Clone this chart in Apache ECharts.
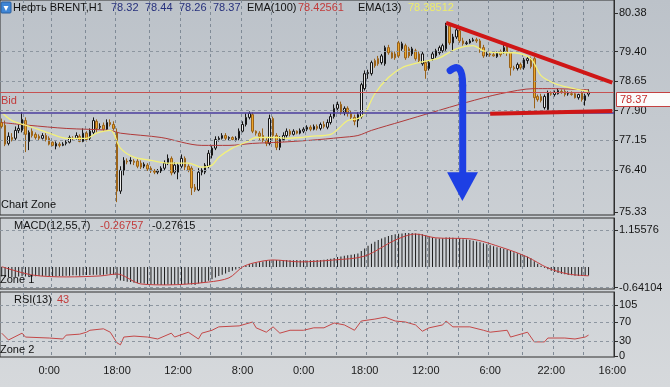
<!DOCTYPE html>
<html><head><meta charset="utf-8">
<script src="https://cdn.jsdelivr.net/npm/echarts@6/dist/echarts.min.js"></script>
<style>html,body{margin:0;padding:0;background:#c9cdd2}#c{width:670px;height:387px}</style>
</head><body><div id="c"></div>
<script>
// ---------- DATA ----------
const barCount = 181;
const categories = Array.from({length: barCount}, (_, i) => String(i));
const timeLabels = ['0:00','18:00','12:00','8:00','0:00','18:00','12:00','6:00','22:00','16:00'];
const timeLabelIdx = [14,34,52,71,89,107,125,144,162,180];
const gridLineIdx = [7,15,25,34,44,53,62,71,80,90,99,108,117,126,135,144,154,163,172];

const opens = [
77.60,77.53,77.07,77.22,77.20,77.40,77.40,77.65,77.12,77.38,
77.30,77.25,77.20,77.27,77.20,77.10,77.00,77.05,77.02,77.07,
77.10,77.20,77.20,77.25,77.12,77.33,77.20,77.35,77.63,77.48,
77.53,77.43,77.60,77.55,77.35,75.86,76.39,76.62,76.62,76.62,
76.62,76.57,76.49,76.52,76.44,76.37,76.34,76.37,76.44,76.57,
76.69,76.34,76.34,76.49,76.69,76.49,76.44,75.96,75.89,76.34,
76.34,76.49,76.77,76.95,77.17,77.20,77.27,77.20,77.22,77.17,
77.20,77.38,77.55,77.73,77.80,77.38,77.33,77.27,77.15,77.07,
77.70,77.27,76.97,77.17,77.27,77.38,77.30,77.38,77.33,77.38,
77.43,77.48,77.43,77.50,77.45,77.55,77.48,77.60,77.75,77.96,
78.06,77.86,77.96,77.83,77.73,77.65,77.75,78.46,78.84,78.84,
79.17,79.22,79.12,79.09,79.50,79.37,79.34,79.62,79.47,79.55,
79.47,79.34,79.42,79.34,79.09,79.12,78.97,79.22,79.29,79.37,
79.42,79.47,80.05,79.62,79.77,79.93,79.67,79.60,79.62,79.67,
79.70,79.67,79.50,79.32,79.34,79.32,79.27,79.40,79.37,79.52,
79.37,78.99,78.97,79.07,78.99,79.17,79.22,79.22,78.26,78.26,
77.98,77.93,78.33,78.31,78.33,78.39,78.39,78.33,78.33,78.33,
78.23,78.36,78.16,78.32];
const closes = [
77.50,77.05,77.25,77.17,77.40,77.45,77.68,77.30,77.35,77.27,
77.22,77.20,77.27,77.17,77.05,77.02,77.07,77.02,77.05,77.10,
77.22,77.19,77.27,77.12,77.33,77.17,77.38,77.65,77.45,77.50,
77.43,77.60,77.55,77.45,75.86,76.39,76.64,76.60,76.64,76.59,
76.49,76.47,76.54,76.42,76.37,76.34,76.37,76.44,76.57,76.69,
76.32,76.52,76.52,76.69,76.47,76.39,75.94,75.89,76.34,76.39,
76.52,76.82,76.95,77.17,77.20,77.27,77.20,77.22,77.17,77.20,
77.38,77.55,77.73,77.83,77.38,77.33,77.25,77.15,77.07,77.70,
77.27,76.97,77.17,77.27,77.38,77.30,77.38,77.33,77.40,77.43,
77.48,77.43,77.50,77.45,77.55,77.50,77.60,77.75,77.96,78.06,
77.86,77.96,77.83,77.73,77.63,77.80,78.56,78.84,78.87,79.12,
79.04,79.09,79.29,79.50,79.37,79.24,79.24,79.29,79.60,79.24,
79.29,79.47,79.22,79.17,79.34,78.92,79.12,79.34,79.42,79.50,
79.55,80.05,79.62,79.77,79.95,79.67,79.60,79.62,79.67,79.70,
79.67,79.47,79.29,79.34,79.32,79.29,79.37,79.32,79.50,79.37,
78.99,78.97,79.07,78.99,79.19,79.22,79.02,78.23,78.18,78.16,
78.26,78.36,78.32,78.36,78.41,78.36,78.31,78.33,78.31,78.23,
78.31,78.18,78.28,78.37];
const lows = [
77.45,77.00,77.02,77.12,77.15,77.33,77.35,76.85,76.90,77.22,
77.17,77.15,77.17,77.12,77.02,77.00,76.92,76.97,77.00,77.02,
77.07,77.15,77.17,77.10,77.10,77.12,77.15,77.30,77.35,77.43,
77.38,77.40,77.50,77.40,75.58,75.79,76.26,76.54,76.54,76.52,
76.44,76.42,76.44,76.37,76.32,76.29,76.29,76.32,76.39,76.52,
76.26,76.29,76.16,76.44,76.39,76.34,75.76,75.84,75.86,76.26,
76.29,76.44,76.69,76.90,77.12,77.17,77.15,77.15,77.15,77.12,
77.15,77.35,77.50,77.68,77.33,77.27,77.15,77.10,77.00,77.02,
77.17,76.90,76.90,77.12,77.22,77.25,77.27,77.30,77.30,77.33,
77.38,77.38,77.40,77.40,77.40,77.45,77.43,77.55,77.70,77.88,
77.80,77.78,77.75,77.68,77.53,77.48,77.70,78.41,78.71,78.79,
78.99,79.04,79.07,79.04,79.32,79.22,79.19,79.24,79.42,79.19,
79.24,79.29,79.17,79.12,79.04,78.71,78.92,79.17,79.24,79.32,
79.37,79.42,79.57,79.42,79.72,79.62,79.55,79.57,79.60,79.65,
79.62,79.37,79.24,79.27,79.27,79.27,79.24,79.27,79.34,79.29,
78.79,78.92,78.92,78.94,78.94,79.09,78.97,77.96,78.13,78.11,
77.93,77.86,78.28,78.26,78.31,78.33,78.26,78.28,78.28,78.21,
78.18,78.13,78.03,78.26];
const highs = [
77.70,77.65,77.35,77.33,77.50,77.55,77.86,77.73,77.40,77.45,
77.35,77.30,77.33,77.33,77.25,77.12,77.12,77.10,77.10,77.15,
77.27,77.25,77.35,77.30,77.45,77.38,77.45,77.73,77.68,77.58,
77.60,77.68,77.68,77.63,77.45,76.49,76.72,76.69,76.72,76.67,
76.67,76.64,76.59,76.57,76.49,76.42,76.42,76.49,76.64,76.79,
76.74,76.59,76.57,76.79,76.74,76.54,76.49,76.04,76.44,76.44,
76.57,76.90,77.00,77.25,77.25,77.33,77.33,77.25,77.25,77.25,
77.45,77.63,77.83,77.88,77.86,77.40,77.38,77.45,77.22,77.80,
77.75,77.33,77.25,77.35,77.45,77.43,77.43,77.40,77.45,77.48,
77.53,77.53,77.55,77.55,77.60,77.63,77.68,77.83,78.06,78.13,
78.13,78.01,78.01,77.91,77.80,77.86,78.61,78.92,78.94,79.17,
79.22,79.29,79.34,79.55,79.57,79.42,79.40,79.67,79.65,79.60,
79.52,79.52,79.47,79.40,79.40,79.17,79.17,79.40,79.47,79.55,
79.60,80.13,80.10,79.85,80.00,79.98,79.75,79.67,79.72,79.75,
79.75,79.72,79.57,79.40,79.37,79.37,79.40,79.45,79.57,79.60,
79.42,79.04,79.12,79.12,79.24,79.27,79.27,79.27,78.31,78.33,
78.31,78.41,78.39,78.41,78.46,78.44,78.44,78.39,78.39,78.36,
78.33,78.39,78.33,78.44];

const ema13Pts = [[0,77.86],[3,77.65],[9,77.48],[14,77.33],[19,77.20],[25,77.20],[28,77.33],[32,77.40],[33,77.33],[35,76.95],[39,76.72],[44,76.64],[49,76.57],[55,76.57],[59,76.47],[62,76.52],[64,76.72],[68,76.95],[72,77.10],[75,77.22],[81,77.22],[84,77.20],[88,77.22],[91,77.25],[97,77.30],[102,77.65],[105,77.70],[107,77.83],[110,78.33],[114,78.74],[118,78.99],[123,79.12],[129,79.24],[134,79.47],[139,79.55],[142,79.42],[147,79.37],[151,79.37],[156,79.22],[159,78.79],[163,78.59],[167,78.49],[173,78.39]];
const ema100Pts = [[0,77.60],[8,77.53],[19,77.45],[32,77.40],[35,77.33],[47,77.22],[59,77.02],[67,77.02],[74,77.07],[82,77.10],[91,77.15],[100,77.22],[105,77.27],[109,77.40],[118,77.63],[127,77.86],[137,78.11],[147,78.33],[157,78.46],[162,78.46],[167,78.45],[173,78.43]];

const macdHist = [
-0.30,-0.31,-0.31,-0.32,-0.31,-0.30,-0.29,-0.30,-0.31,-0.30,
-0.29,-0.28,-0.28,-0.27,-0.28,-0.29,-0.29,-0.28,-0.28,-0.27,
-0.27,-0.26,-0.26,-0.27,-0.26,-0.25,-0.25,-0.24,-0.24,-0.25,
-0.24,-0.23,-0.23,-0.24,
-0.36,-0.42,-0.44,-0.46,-0.47,-0.49,-0.50,
-0.51,-0.52,-0.53,-0.54,-0.55,-0.55,-0.56,-0.56,-0.55,-0.56,
-0.55,-0.55,-0.54,-0.54,-0.53,-0.55,-0.56,-0.52,
-0.50,-0.47,-0.43,-0.38,-0.33,-0.28,-0.24,-0.20,-0.16,
-0.12,-0.08,-0.04,0.00,0.04,
0.09,0.11,0.13,0.15,0.17,0.19,0.20,0.21,
0.22,0.21,0.22,0.22,0.21,0.21,0.22,0.21,0.21,0.20,0.21,0.21,0.22,0.22,0.23,0.24,0.26,0.28,
0.31,0.33,0.35,0.37,0.38,0.40,0.42,0.50,0.58,
0.66,0.73,0.79,0.84,0.89,0.93,0.97,1.00,1.02,
1.04,1.05,1.06,1.06,1.06,1.05,1.04,1.02,0.99,0.95,
0.92,0.90,0.89,0.90,0.92,0.92,0.91,0.90,0.89,0.87,0.86,0.84,0.82,0.80,
0.77,0.74,0.71,0.68,0.65,0.62,0.59,0.57,0.54,0.50,0.46,0.43,0.40,0.36,0.32,0.27,0.18,
0.10,0.04,-0.02,-0.07,-0.12,-0.16,-0.19,-0.21,-0.23,-0.25,-0.26,-0.27,-0.28,-0.28,-0.27,-0.268];
const macdSignalPts = [[0,0.01],[9,-0.25],[19,-0.31],[29,-0.28],[34,-0.22],[41,-0.53],[49,-0.56],[61,-0.47],[67,-0.34],[71,0.0],[74,0.12],[80,0.22],[88,0.16],[98,0.22],[107,0.34],[116,0.84],[122,1.03],[128,0.91],[138,0.88],[148,0.59],[155,0.31],[161,-0.03],[167,-0.22],[173,-0.276]];
const rsiPts = [[0,47],[2,33],[6,47],[7,39],[14,37],[18,35],[19,43],[23,45],[25,49],[26,53],[30,56],[32,49],[34,27],[35,23],[36,39],[39,41],[43,39],[46,35],[50,47],[51,39],[55,49],[58,35],[59,47],[62,53],[64,60],[70,62],[74,70],[75,58],[78,49],[80,60],[82,47],[85,53],[89,53],[92,58],[95,58],[98,68],[101,64],[104,53],[106,72],[110,76],[113,80],[116,72],[119,70],[122,64],[124,51],[126,58],[130,64],[131,72],[133,60],[138,60],[142,53],[144,49],[149,53],[150,39],[155,49],[157,29],[160,29],[161,37],[166,37],[169,35],[172,39],[173,43]];

const mainTicks = [80.38, 79.40, 78.65, 77.90, 77.15, 76.40, 75.33];
const macdTicks = [1.15576, -0.64104];
const rsiTicks = [105, 70, 30, 0];
const supportLevel = 77.86;
const trendUpper = [[131, 80.13], [180, 78.61]];
const trendLower = [[144, 77.82], [180, 77.89]];
const arrowPath = [[132.2, 78.92], [135.9, 79.17], [135.9, 78.54], [135.9, 76.34]];
const arrowHead = [[131.3, 76.34], [140.4, 76.34], [135.8, 75.61]];
const ema100Last = 78.42561, ema13Last = 78.38512;
const macdLast = -0.26757, macdSignalLast = -0.27615;
const rsiLast = 43;

// ---------- CHART ----------
const FONT = '"Liberation Sans", Arial, sans-serif';
const last = closes.length - 1;
const candleData = opens.map((o, i) => [o, closes[i], lows[i], highs[i]]);
const labelMap = {}; timeLabelIdx.forEach((k, j) => labelMap[k] = timeLabels[j]);
const gridSet = new Set(gridLineIdx);
const hDash = {color: '#8d96a0', type: [3, 3], width: 1};

function xAxisFor(gi, showLabels) {
  return {
    type: 'category', gridIndex: gi, data: categories,
    axisLine: {show: false}, axisTick: {show: false},
    axisLabel: showLabels ? {
      show: true, interval: (i) => labelMap[i] !== undefined,
      formatter: (v, i) => labelMap[i] || '', color: '#1a1a1a', fontSize: 11, fontFamily: FONT, margin: 8
    } : {show: false},
    splitLine: {show: true, interval: (i) => gridSet.has(i), lineStyle: {color: '#7f8a96', type: [3, 3], width: 1}}
  };
}
function yAxisFor(gi, min, max, ticks, fmt) {
  return {
    type: 'value', gridIndex: gi, position: 'right', min: min, max: max, scale: true,
    axisLine: {show: true, lineStyle: {color: '#2e2e2e'}},
    axisTick: {show: true, customValues: ticks, length: 4, lineStyle: {color: '#2e2e2e'}},
    axisLabel: {customValues: ticks, formatter: fmt, color: '#151515', fontSize: 11, fontFamily: FONT, margin: 5},
    splitLine: {show: false}
  };
}

const chart = echarts.init(document.getElementById('c'));
const gridBase = {left: -1, width: 615, show: true, borderColor: '#2e2e2e', borderWidth: 1};
chart.setOption({
  animation: false,
  backgroundColor: {type: 'linear', x: 0, y: 0, x2: 0, y2: 1,
    colorStops: [{offset: 0, color: '#bcc2c9'}, {offset: 1, color: '#d6d9dc'}]},
  textStyle: {fontFamily: FONT},
  grid: [
    Object.assign({top: -1, height: 216}, gridBase),
    Object.assign({top: 218, height: 71}, gridBase),
    Object.assign({top: 292, height: 65}, gridBase)
  ],
  xAxis: [xAxisFor(0, false), xAxisFor(1, false), xAxisFor(2, true)],
  yAxis: [
    yAxisFor(0, 75.254, 80.708, mainTicks, v => v.toFixed(2)),
    yAxisFor(1, -0.688, 1.531, macdTicks, v => v.toFixed(5)),
    yAxisFor(2, -2.06, 131.76, rsiTicks, v => String(v))
  ],
  series: [
    {
      type: 'candlestick', xAxisIndex: 0, yAxisIndex: 0, data: candleData, barWidth: 2,
      itemStyle: {color: '#ececec', color0: '#eba52c', borderColor: '#161616', borderColor0: '#9a6218', borderWidth: 1},
      markLine: {
        silent: true, symbol: ['none', 'none'], animation: false, label: {show: false},
        data: mainTicks.slice(1, -1).map(v => ({yAxis: v, lineStyle: hDash})).concat([
          {yAxis: closes[last], lineStyle: {color: '#c65252', width: 1, type: 'solid'},
           label: {show: true, position: 'insideStartBottom', formatter: 'Bid', color: '#c23a3a', fontSize: 11, fontFamily: FONT, distance: [1, 3]}},
          {yAxis: supportLevel, lineStyle: {color: '#4b3c9e', width: 1.5, type: 'solid'}},
          [{coord: trendUpper[0]}, {coord: trendUpper[1], lineStyle: {color: '#cf1616', width: 4, type: 'solid'}}],
          [{coord: trendLower[0]}, {coord: trendLower[1], lineStyle: {color: '#cf1616', width: 4, type: 'solid'}}]
        ])
      }
    },
    {type: 'line', xAxisIndex: 0, yAxisIndex: 0, data: ema100Pts, showSymbol: false, smooth: 0.3,
     lineStyle: {color: '#b03a3a', width: 1}, z: 3},
    {type: 'line', xAxisIndex: 0, yAxisIndex: 0, data: ema13Pts, showSymbol: false, smooth: 0.3,
     lineStyle: {color: '#f3f17a', width: 1.3}, z: 4},
    {type: 'bar', xAxisIndex: 1, yAxisIndex: 1, data: macdHist, barWidth: 1,
     itemStyle: {color: '#1c1c1c'}},
    {type: 'line', xAxisIndex: 1, yAxisIndex: 1, data: macdSignalPts, showSymbol: false, smooth: 0.3,
     lineStyle: {color: '#c43c3c', width: 1}, z: 4,
     markLine: {silent: true, symbol: ['none', 'none'], label: {show: false},
       data: macdTicks.map(v => ({yAxis: v, lineStyle: hDash}))}},
    {type: 'line', xAxisIndex: 2, yAxisIndex: 2, data: rsiPts, showSymbol: false,
     lineStyle: {color: '#c44848', width: 1},
     markLine: {silent: true, symbol: ['none', 'none'], label: {show: false},
       data: rsiTicks.slice(0, 3).map(v => ({yAxis: v, lineStyle: hDash}))}}
  ]
});

function px(i, p) {
  const i0 = Math.floor(i), f = i - i0;
  const a = chart.convertToPixel({gridIndex: 0}, [i0, p]);
  const b = chart.convertToPixel({gridIndex: 0}, [i0 + 1, p]);
  return [a[0] + (b[0] - a[0]) * f, a[1]];
}
function txt(t, x, y, color) {
  return {type: 'text', x: x, y: y, z: 100, silent: true,
    style: {text: t, fill: color, font: '11px ' + FONT, verticalAlign: 'middle', align: 'left'}};
}
const ap = arrowPath.map(p => px(p[0], p[1]));
const ah = arrowHead.map(p => px(p[0], p[1]));
const bidY = chart.convertToPixel({yAxisIndex: 0}, closes[last]);
const arrowStroke = {fill: null, stroke: '#1d3fe4', lineWidth: 7, lineCap: 'round'};

chart.setOption({graphic: [
  {type: 'rect', z: 100, shape: {x: 1, y: 2, width: 10, height: 11, r: 1},
   style: {fill: '#3f86d6', stroke: '#2a5f9e', lineWidth: 1}},
  {type: 'polygon', z: 101, shape: {points: [[3.5, 6], [8.5, 6], [6, 11]]}, style: {fill: '#ffffff'}},
  txt('Нефть BRENT,H1', 13, 8, '#111111'),
  txt(opens[last].toFixed(2), 111, 8, '#26307c'),
  txt(highs[last].toFixed(2), 145, 8, '#26307c'),
  txt(lows[last].toFixed(2), 179, 8, '#26307c'),
  txt(closes[last].toFixed(2), 213, 8, '#26307c'),
  txt('EMA(100)', 247, 8, '#111111'),
  txt(ema100Last.toFixed(5), 298, 8, '#c23a3a'),
  txt('EMA(13)', 358, 8, '#111111'),
  txt(ema13Last.toFixed(5), 408, 8, '#eeec6a'),
  txt('Chart Zone', 1, 205, '#111111'),
  txt('MACD(12,55,7)', 14, 226, '#111111'),
  txt(macdLast.toFixed(5), 100, 226, '#c23a3a'),
  txt(macdSignalLast.toFixed(5), 152, 226, '#111111'),
  txt('Zone 1', 0, 280, '#111111'),
  txt('RSI(13)', 14, 300, '#111111'),
  txt(String(rsiLast), 57, 300, '#c23a3a'),
  txt('Zone 2', 0, 350, '#111111'),
  {type: 'rect', z: 100, shape: {x: 616.5, y: Math.round(bidY) + 0.5, width: 54, height: 14},
   style: {fill: '#fbfbfb', stroke: '#c44040', lineWidth: 1}},
  txt(closes[last].toFixed(2), 620, Math.round(bidY) + 8, '#c42e2e'),
  {type: 'bezierCurve', z: 90, shape: {x1: ap[0][0], y1: ap[0][1], cpx1: ap[1][0], cpy1: ap[1][1], x2: ap[2][0], y2: ap[2][1]},
   style: arrowStroke},
  {type: 'line', z: 90, shape: {x1: ap[2][0], y1: ap[2][1], x2: ap[3][0], y2: ap[3][1]},
   style: arrowStroke},
  {type: 'polygon', z: 90, shape: {points: ah}, style: {fill: '#1d3fe4'}}
]});
</script></body></html>
